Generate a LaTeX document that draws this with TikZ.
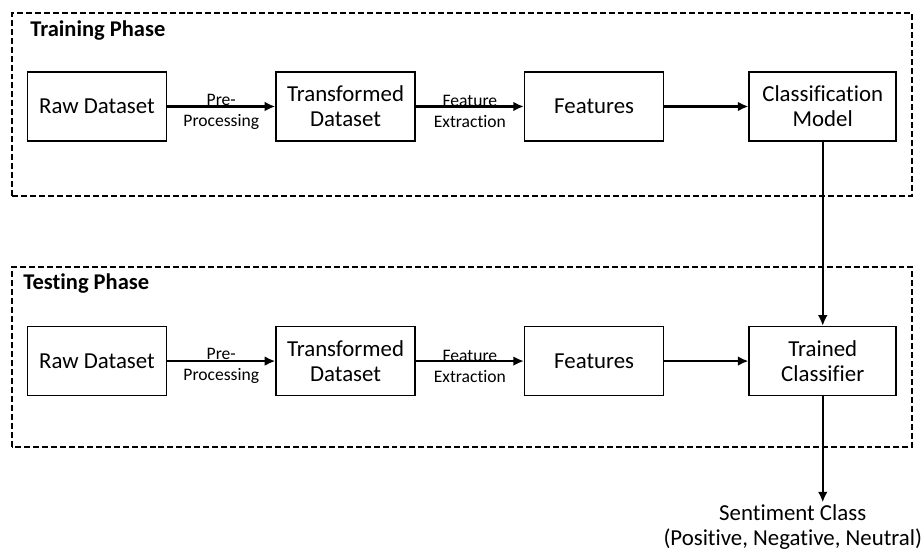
\documentclass[tikz,border=0pt]{standalone}
\usepackage{fontspec}
\setmainfont{Carlito}[Ligatures=NoCommon]
\usetikzlibrary{arrows.meta, positioning}

\begin{document}
\begin{tikzpicture}[
node distance=2.16cm,
block/.style={draw, rectangle, line width=0.9pt, minimum width=2.78cm, minimum height=1.38cm, align=center, font=\fontsize{13}{14.2}\selectfont},
wideblock/.style={block, minimum width=2.94cm},
phase/.style={draw, line width=1.1pt, dash pattern=on 3.4pt off 1.7pt},
title/.style={anchor=base west, inner sep=0pt, font=\fontsize{12.8}{14}\selectfont\bfseries},
lbl/.style={align=center, inner sep=0pt, yshift=-0.1cm, font=\fontsize{10}{12}\selectfont},
arrow/.style={-{Latex[length=6pt, width=5.5pt]}, line width=1.2pt}
]

\useasboundingbox (0,0) rectangle (18.44,11.04);

% Phase frames
\draw[phase] (0.24,7.12) rectangle (18.24,10.78);
\draw[phase] (0.24,2.10) rectangle (18.24,5.70);
\node[title] (train) at (0.6,10.30) {Training Phase};
\node[title] (test) at (0.46,5.24) {Testing Phase};

% Training row
\node[block] (raw1) at (1.94,8.91) {Raw Dataset};
\node[block, right=of raw1] (trans1) {Transformed\\Dataset};
\node[block, right=of trans1] (feat1) {Features};
\node[wideblock, right=1.68cm of feat1] (model) {Classification\\Model};

% Testing row
\node[block, below=3.68cm of raw1] (raw2) {Raw Dataset};
\node[block, right=of raw2] (trans2) {Transformed\\Dataset};
\node[block, right=of trans2] (feat2) {Features};
\node[wideblock, right=1.68cm of feat2] (clf) {Trained\\Classifier};

% Output
\node[below=2.12cm of clf, xshift=-0.6cm, align=center, inner sep=1pt, font=\fontsize{13}{14.2}\selectfont] (senti) {Sentiment Class\\(Positive, Negative, Neutral)};

% Connections
\draw[arrow] (raw1) -- node[lbl]{Pre-\\Processing} (trans1);
\draw[arrow] (trans1) -- node[lbl]{Feature\\Extraction} (feat1);
\draw[arrow] (feat1) -- (model);

\draw[arrow] (raw2) -- node[lbl]{Pre-\\Processing} (trans2);
\draw[arrow] (trans2) -- node[lbl]{Feature\\Extraction} (feat2);
\draw[arrow] (feat2) -- (clf);

\draw[arrow] (model) -- (clf);
\draw[arrow] (clf) -- (clf |- senti.north);

\end{tikzpicture}
\end{document}
